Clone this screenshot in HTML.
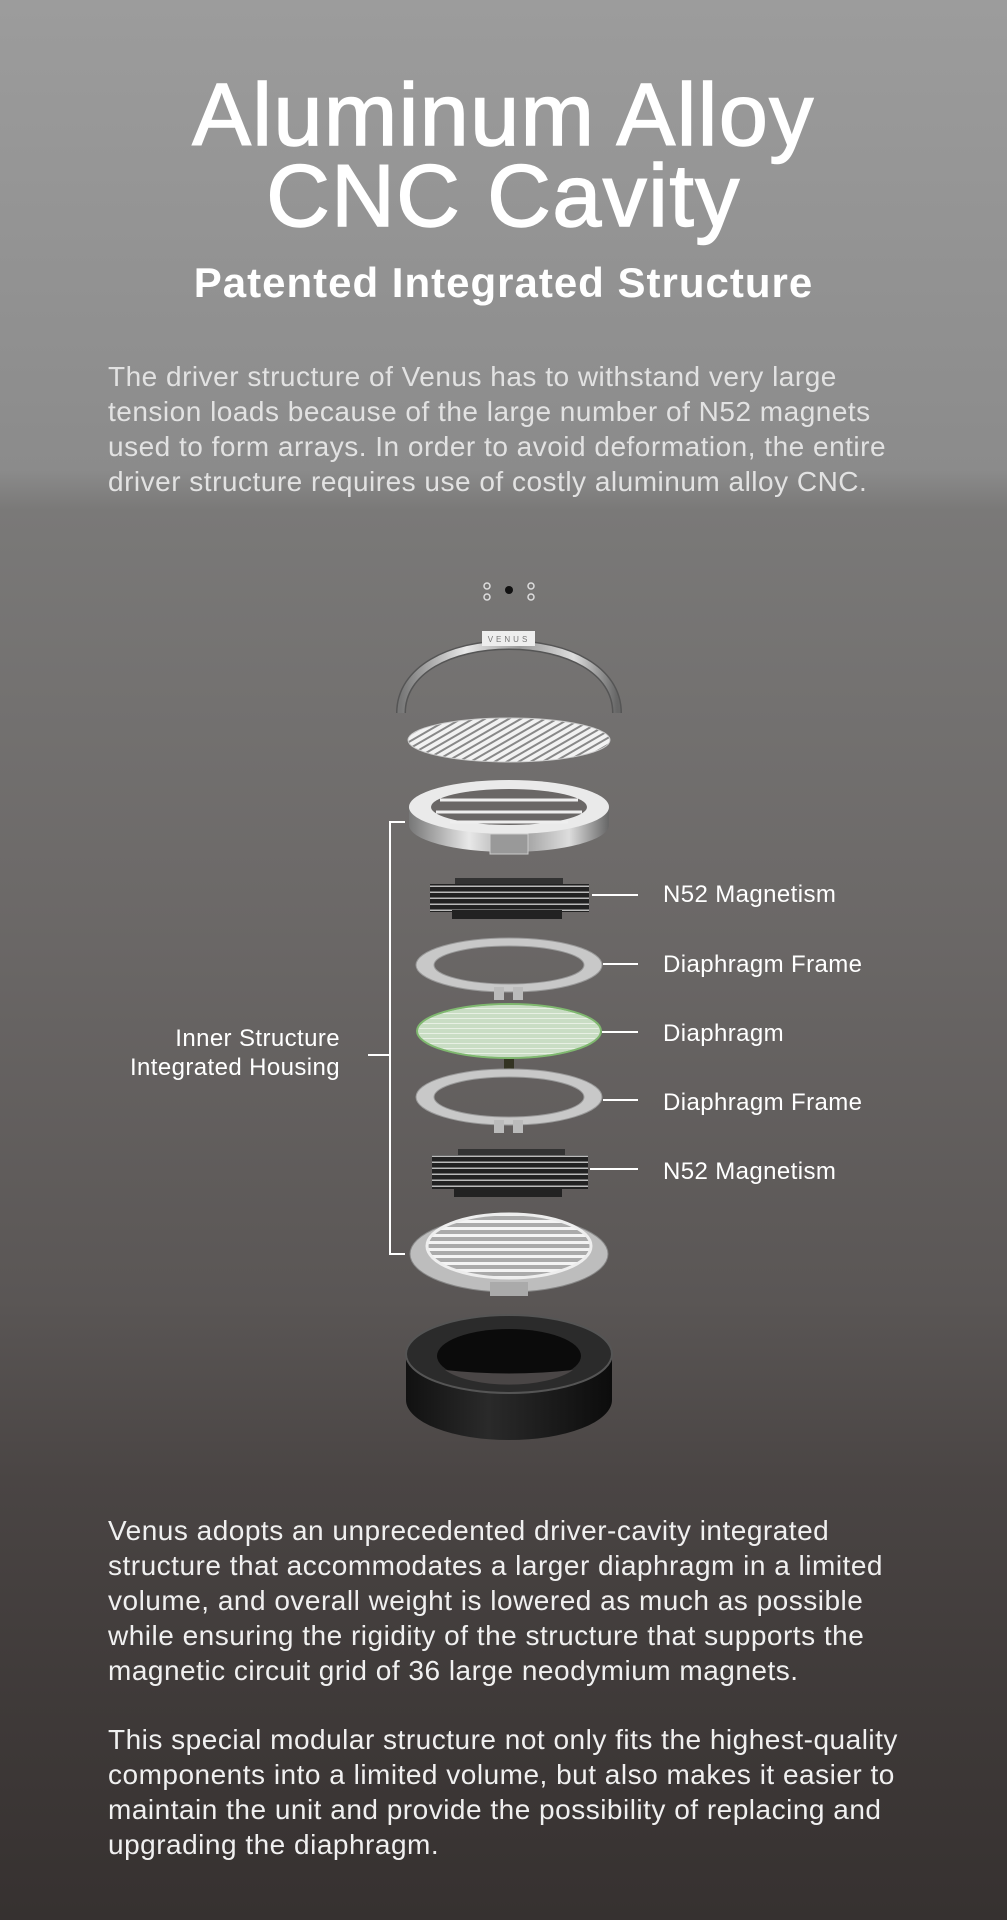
<!DOCTYPE html>
<html><head><meta charset="utf-8"><style>
html,body{margin:0;padding:0}
body{width:1007px;height:1920px;overflow:hidden;position:relative;font-family:"Liberation Sans",Arial,sans-serif;
background:linear-gradient(to bottom,#9c9c9c 0px,#8b8b8b 470px,#7a7978 510px,#6c6968 900px,#5a5655 1300px,#4a4544 1480px,#3f3a39 1700px,#363130 1920px);}
.t{position:absolute;left:0;width:1007px;text-align:center;color:#fff;white-space:nowrap}
.p{position:absolute;left:108px;width:880px;color:#e6e6e6;font-size:28px;line-height:35px;letter-spacing:0.5px;white-space:nowrap}
svg{position:absolute;left:0;top:0}
</style></head><body>
<div class="t" style="top:70px;font-size:88px;line-height:90px;letter-spacing:1.5px;-webkit-text-stroke:1.5px #fff">Aluminum Alloy</div>
<div class="t" style="top:151px;font-size:88px;line-height:90px;letter-spacing:1.5px;-webkit-text-stroke:1.5px #fff">CNC Cavity</div>
<div class="t" style="top:258px;font-size:42px;line-height:50px;font-weight:bold;letter-spacing:1px">Patented Integrated Structure</div>
<div class="p" style="top:359px;color:#e2e2e2">The driver structure of Venus has to withstand very large<br>tension loads because of the large number of N52 magnets<br>used to form arrays. In order to avoid deformation, the entire<br>driver structure requires use of costly aluminum alloy CNC.</div>
<div class="p" style="top:1513px;color:#f0f0f0">Venus adopts an unprecedented driver-cavity integrated<br>structure that accommodates a larger diaphragm in a limited<br>volume, and overall weight is lowered as much as possible<br>while ensuring the rigidity of the structure that supports the<br>magnetic circuit grid of 36 large neodymium magnets.</div>
<div class="p" style="top:1722px;color:#f0f0f0">This special modular structure not only fits the highest-quality<br>components into a limited volume, but also makes it easier to<br>maintain the unit and provide the possibility of replacing and<br>upgrading the diaphragm.</div>

<svg width="1007" height="1920" viewBox="0 0 1007 1920">
<defs>
<linearGradient id="met" x1="0" x2="1"><stop offset="0" stop-color="#777"/><stop offset=".3" stop-color="#e8e8e8"/><stop offset=".55" stop-color="#9a9a9a"/><stop offset=".8" stop-color="#ddd"/><stop offset="1" stop-color="#666"/></linearGradient>
<linearGradient id="blk" x1="0" x2="1"><stop offset="0" stop-color="#111"/><stop offset=".4" stop-color="#2a2a2a"/><stop offset="1" stop-color="#0c0c0c"/></linearGradient>
<pattern id="stripes" width="6" height="6" patternUnits="userSpaceOnUse" patternTransform="rotate(60)"><rect width="6" height="6" fill="#f2f2f2"/><rect width="2" height="6" fill="#888"/></pattern>
<pattern id="hs" width="10" height="5" patternUnits="userSpaceOnUse"><rect width="10" height="5" fill="#c9ddc4"/><rect y="3" width="10" height="1" fill="#e8f0e4"/></pattern>
<pattern id="mag" width="10" height="6" patternUnits="userSpaceOnUse"><rect width="10" height="6" fill="#222"/><rect y="3.5" width="10" height="1.5" fill="#bbb"/></pattern>
<pattern id="bs" width="10" height="7" patternUnits="userSpaceOnUse"><rect width="10" height="7" fill="#aaa"/><rect y="2" width="10" height="3" fill="#f4f4f4"/></pattern>
<clipPath id="c1"><ellipse cx="509" cy="1031" rx="90" ry="26"/></clipPath>
</defs>
<g fill="none" stroke="#ddd" stroke-width="1.5">
<circle cx="487" cy="586" r="3"/><circle cx="487" cy="597" r="3"/><circle cx="531" cy="586" r="3"/><circle cx="531" cy="597" r="3"/>
</g>
<circle cx="509" cy="590" r="4" fill="#111"/>
<path d="M401 713 C401 670 450 645 509 645 C568 645 617 670 617 713" fill="none" stroke="#555" stroke-width="10"/>
<path d="M401 713 C401 670 450 645 509 645 C568 645 617 670 617 713" fill="none" stroke="url(#met)" stroke-width="7"/>
<rect x="482" y="631" width="53" height="15" fill="#eee"/>
<text x="509" y="642" font-size="8" fill="#777" text-anchor="middle" letter-spacing="3" font-family="Liberation Sans">VENUS</text>
<ellipse cx="509" cy="740" rx="101" ry="22" fill="url(#stripes)" stroke="#ccc" stroke-width="1"/>
<path d="M409 807 L409 825 A100 27 0 0 0 609 825 L609 807 Z" fill="url(#met)"/>
<ellipse cx="509" cy="807" rx="100" ry="27" fill="#eaeaea"/>
<ellipse cx="509" cy="807" rx="78" ry="18" fill="#6a6766"/>
<g stroke="#eee" stroke-width="3"><line x1="440" y1="800" x2="578" y2="800"/><line x1="436" y1="812" x2="582" y2="812"/><line x1="450" y1="822" x2="568" y2="822"/></g>
<rect x="490" y="834" width="38" height="20" fill="#999" stroke="#ccc"/>
<rect x="455" y="878" width="108" height="6" fill="#333"/>
<rect x="430" y="884" width="159" height="28" fill="url(#mag)"/>
<rect x="452" y="910" width="110" height="9" fill="#222"/>
<path d="M416 965 a93 27 0 1 0 186 0 a93 27 0 1 0 -186 0 Z M434 965 a75 19 0 1 1 150 0 a75 19 0 1 1 -150 0 Z" fill="#c8c8c8" fill-rule="evenodd" stroke="#999" stroke-width="1"/>
<rect x="494" y="987" width="10" height="13" fill="#bbb"/><rect x="513" y="987" width="10" height="13" fill="#bbb"/>
<ellipse cx="509" cy="1031" rx="92" ry="27" fill="#cfe0ca" stroke="#7fb86f" stroke-width="2"/>
<rect x="415" y="1002" width="190" height="60" fill="url(#hs)" clip-path="url(#c1)"/>
<rect x="504" y="1059" width="10" height="12" fill="#332"/>
<path d="M416 1097 a93 28 0 1 0 186 0 a93 28 0 1 0 -186 0 Z M434 1097 a75 20 0 1 1 150 0 a75 20 0 1 1 -150 0 Z" fill="#c8c8c8" fill-rule="evenodd" stroke="#999" stroke-width="1"/>
<rect x="494" y="1120" width="10" height="13" fill="#bbb"/><rect x="513" y="1120" width="10" height="13" fill="#bbb"/>
<rect x="458" y="1149" width="107" height="6" fill="#333"/>
<rect x="432" y="1155" width="156" height="34" fill="url(#mag)"/>
<rect x="454" y="1187" width="108" height="10" fill="#222"/>
<ellipse cx="509" cy="1254" rx="99" ry="38" fill="#bdbdbd" stroke="#888"/>
<ellipse cx="509" cy="1246" rx="82" ry="32" fill="url(#bs)" stroke="#eee" stroke-width="3"/>
<rect x="490" y="1282" width="38" height="14" fill="#aaa"/>
<path d="M406 1354 L406 1400 A103 40 0 0 0 612 1400 L612 1354 Z" fill="url(#blk)"/>
<ellipse cx="509" cy="1354" rx="103" ry="39" fill="#2b2b2b" stroke="#555" stroke-width="2"/>
<ellipse cx="509" cy="1356" rx="72" ry="27" fill="#0b0b0b"/>
<path d="M445 1370 A72 27 0 0 0 573 1370 Q509 1377 445 1370Z" fill="#4a4646"/>
<g stroke="#fff" stroke-width="2" fill="none">
<polyline points="405,822 390,822 390,1254 405,1254"/>
<line x1="368" y1="1055" x2="390" y2="1055"/>
<line x1="592" y1="895" x2="638" y2="895"/>
<line x1="603" y1="964" x2="638" y2="964"/>
<line x1="602" y1="1032" x2="638" y2="1032"/>
<line x1="603" y1="1100" x2="638" y2="1100"/>
<line x1="590" y1="1169" x2="638" y2="1169"/>
</g>
<g fill="#fff" font-family="Liberation Sans,Arial,sans-serif" font-size="24" letter-spacing="0.4">
<text x="663" y="902">N52 Magnetism</text>
<text x="663" y="972">Diaphragm Frame</text>
<text x="663" y="1041">Diaphragm</text>
<text x="663" y="1110">Diaphragm Frame</text>
<text x="663" y="1179">N52 Magnetism</text>
<text x="340" y="1046" text-anchor="end">Inner Structure</text>
<text x="340" y="1075" text-anchor="end">Integrated Housing</text>
</g>
</svg>
</body></html>
